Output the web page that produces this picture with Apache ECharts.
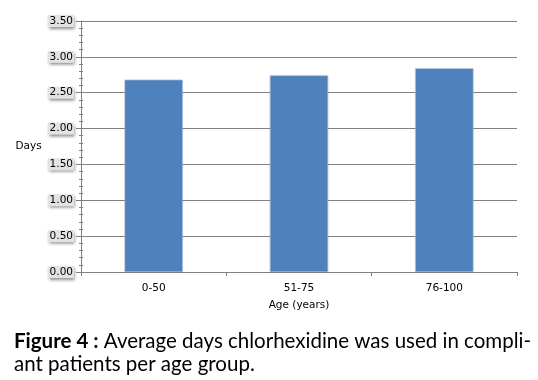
<!DOCTYPE html>
<html><head><meta charset="utf-8">
<script src="https://cdn.jsdelivr.net/npm/echarts@6/dist/echarts.min.js"></script>
<style>html,body{margin:0;padding:0;background:#fff}#c{width:538px;height:380px}</style>
</head><body><div id="c"></div>
<script>
var categories = ['0-50', '51-75', '76-100'];
var values = [2.68, 2.74, 2.84];
var yName = 'Days';
var xName = 'Age (years)';
var captionBold = 'Figure 4 :';
var captionLine1 = ' Average days chlorhexidine was used in compli-';
var captionLine2 = 'ant patients per age group.';

var chart = echarts.init(document.getElementById('c'), null, {renderer: 'canvas'});
var labelFont = 'Tahoma, "DejaVu Sans", sans-serif';
chart.setOption({
  animation: false,
  grid: {left: 81, right: 21, top: 21, bottom: 108},
  xAxis: {
    type: 'category', data: categories,
    name: xName, nameLocation: 'middle', nameGap: 28,
    nameTextStyle: {fontFamily: labelFont, fontSize: 10.5, color: '#000'},
    axisLine: {lineStyle: {color: '#808080', width: 1}},
    axisTick: {show: true, length: 4, lineStyle: {color: '#808080'}},
    axisLabel: {fontFamily: labelFont, fontSize: 10.5, color: '#000', margin: 11}
  },
  yAxis: [{
    type: 'value', min: 0, max: 3.5, interval: 0.5,
    name: yName, nameLocation: 'middle', nameGap: 33, nameRotate: 0,
    nameTextStyle: {fontFamily: labelFont, fontSize: 10.5, color: '#000', align: 'center'},
    axisLine: {show: true, lineStyle: {color: '#808080'}},
    axisTick: {show: true, length: 5, lineStyle: {color: '#808080'}},
    minorTick: {show: true, splitNumber: 5, length: 2, lineStyle: {color: '#808080'}},
    splitLine: {show: true, lineStyle: {color: '#808080', width: 1}},
    axisLabel: {
      fontFamily: labelFont, fontSize: 10.5, color: '#000', margin: 7,
      formatter: function (v) { return v.toFixed(2); },
      backgroundColor: '#e3e3e3', padding: [1, 1, 0, 2],
      shadowColor: 'rgba(0,0,0,0.45)', shadowBlur: 3, shadowOffsetX: 1, shadowOffsetY: 2
    }
  }, {
    type: 'value', min: 0, max: 3.5, interval: 0.5, position: 'left',
    axisLine: {show: false},
    axisTick: {show: false, inside: true},
    minorTick: {show: true, splitNumber: 5, length: 2, lineStyle: {color: '#808080'}},
    splitLine: {show: false},
    axisLabel: {show: false}
  }],
  series: [{
    type: 'bar', data: values, barWidth: '40%',
    itemStyle: {color: '#4f81bd', borderColor: '#a9bfdc', borderWidth: 0.6,
      shadowColor: 'rgba(0,0,0,0.15)', shadowBlur: 2}
  }],
  graphic: [{
    type: 'text', left: 14, top: 330,
    style: {
      rich: {
        b: {fontFamily: 'Lato, "Open Sans", sans-serif', fontSize: 20.5, fontWeight: 'bold', fill: '#000'},
        n: {fontFamily: 'Lato, "Open Sans", sans-serif', fontSize: 20.5, fill: '#000'}
      },
      text: '{b|' + captionBold + '}{n|' + captionLine1 + '}\n{n|' + captionLine2 + '}',
      lineHeight: 23
    }
  }]
});
</script></body></html>
